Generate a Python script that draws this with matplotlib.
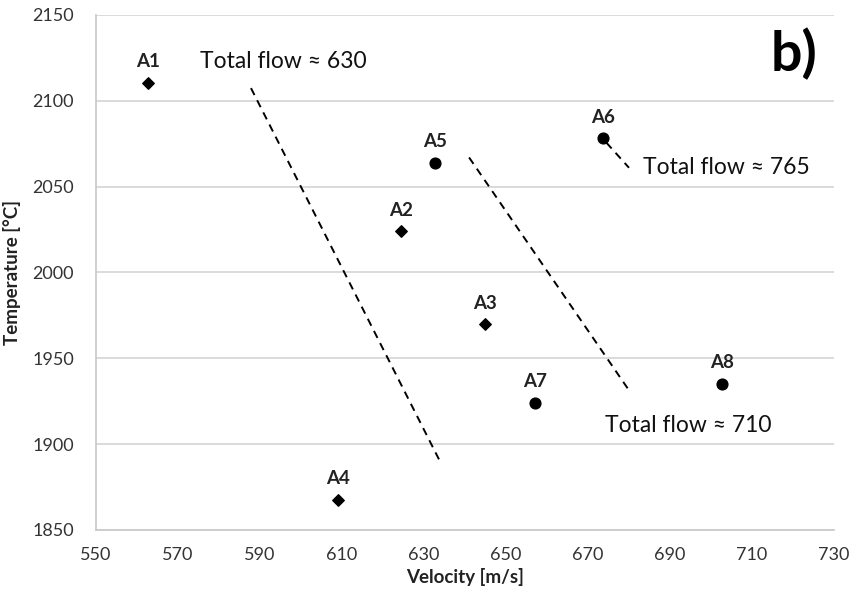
import matplotlib.pyplot as plt
import numpy as np

plt.rcParams['font.family'] = ['Lato', 'DejaVu Sans']

# data points (velocity m/s, temperature C)
names = ["A1", "A2", "A3", "A4", "A5", "A6", "A7", "A8"]
velocity = [562.7, 624.3, 644.9, 609.0, 632.7, 673.7, 657.1, 702.8]
temperature = [2110.5, 2024.0, 1969.8, 1867.5, 2063.8, 2078.3, 1924.0, 1935.3]
markers = ["D", "D", "D", "D", "o", "o", "o", "o"]

# iso total flow guide lines
flow_labels = ["Total flow \u2248 630", "Total flow \u2248 710", "Total flow \u2248 765"]
flow_x = [[587.8, 633.9], [641.0, 680.4], [674.5, 680.0]]
flow_y = [[2107.4, 1890.0], [2067.0, 1930.0], [2075.6, 2061.0]]
flow_text_x = [575.4, 674.1, 683.3]
flow_text_y = [2122.7, 1911.0, 2061.0]

fig = plt.figure(figsize=(8.51, 5.99), dpi=100)
ax = fig.add_axes([0.1128, 0.1152, 0.8672, 0.8598])

for n, vx, ty, m in zip(names, velocity, temperature, markers):
    ax.scatter(vx, ty, marker=m, s=60 if m == "o" else 34, color="black", zorder=3)
    ax.annotate(n, (vx, ty), xytext=(0, 9), textcoords="offset points",
                ha="center", va="bottom", fontsize=13.5, fontweight="bold", color="#222222")

for fx, fy in zip(flow_x, flow_y):
    ax.plot(fx, fy, color="black", linestyle=(0, (4, 3)), linewidth=1.4)

for lab, tx, ty in zip(flow_labels, flow_text_x, flow_text_y):
    ax.text(tx, ty, lab, fontsize=16.5, ha="left", va="center", color="#111111")

ax.text(0.977, 0.925, "b)", transform=ax.transAxes, fontsize=40, fontweight="bold",
        ha="right", va="center", color="black")

ax.set_xlim(550, 730)
ax.set_ylim(1850, 2150)
ax.set_xticks(np.arange(550, 731, 20))
ax.set_yticks(np.arange(1850, 2151, 50))
ax.tick_params(length=0, labelsize=13, labelcolor="#333333")
ax.tick_params(axis="x", pad=12)
ax.tick_params(axis="y", pad=16)
ax.grid(axis="y", color="#d4d4d4", linewidth=1.2)
ax.set_axisbelow(True)
for s in ["top", "right"]:
    ax.spines[s].set_visible(False)
for s in ["left", "bottom"]:
    ax.spines[s].set_color("#c8c8c8")
    ax.spines[s].set_linewidth(1.2)

ax.set_xlabel("Velocity [m/s]", fontsize=13.5, fontweight="bold", color="#222222", labelpad=4)
ax.set_ylabel("Temperature [\u00b0C]", fontsize=13.5, fontweight="bold", color="#222222", labelpad=8)

fig.savefig("out.png", dpi=100, facecolor="white")
